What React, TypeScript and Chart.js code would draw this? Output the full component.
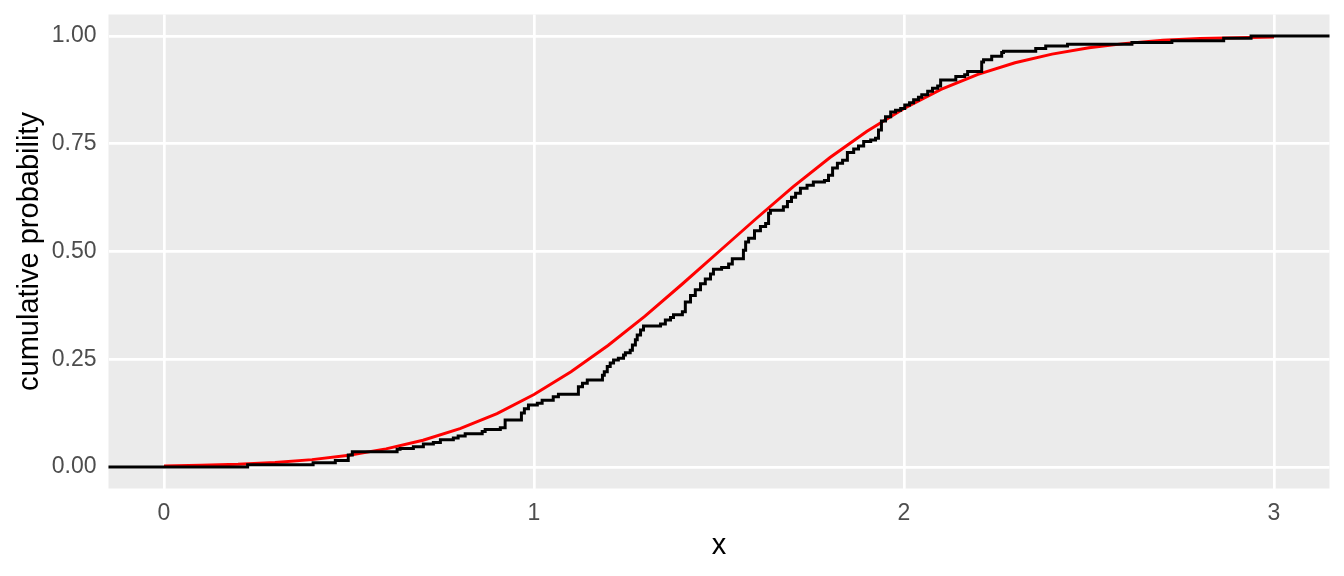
import React, { useEffect, useRef } from "react";
import { Chart, registerables } from "chart.js";

Chart.register(...registerables);

const ecdfX = [
  0.226, 0.403, 0.463, 0.498, 0.509, 0.63, 0.638, 0.674, 0.701, 0.728,
  0.747, 0.782, 0.795, 0.814, 0.86, 0.868, 0.909, 0.922, 0.966, 0.974,
  0.985, 1.009, 1.022, 1.052, 1.066, 1.12, 1.131, 1.144, 1.185, 1.19,
  1.198, 1.206, 1.215, 1.228, 1.242, 1.247, 1.26, 1.266, 1.274, 1.279,
  1.288, 1.296, 1.342, 1.355, 1.369, 1.377, 1.401, 1.409, 1.423, 1.436,
  1.45, 1.463, 1.477, 1.485, 1.507, 1.526, 1.536, 1.566, 1.572, 1.58,
  1.596, 1.612, 1.626, 1.634, 1.639, 1.674, 1.685, 1.696, 1.707, 1.72,
  1.738, 1.755, 1.785, 1.796, 1.807, 1.82, 1.834, 1.847, 1.864, 1.877,
  1.891, 1.91, 1.923, 1.931, 1.939, 1.95, 1.964, 1.977, 1.991, 2.002,
  2.015, 2.026, 2.039, 2.048, 2.064, 2.077, 2.091, 2.099, 2.14, 2.164,
  2.172, 2.21, 2.215, 2.237, 2.264, 2.269, 2.356, 2.383, 2.442, 2.616,
  2.724, 2.864, 2.938,
];
const ecdfY = [
  0.005, 0.01, 0.015, 0.028, 0.035, 0.041, 0.043, 0.047, 0.053, 0.057,
  0.063, 0.067, 0.072, 0.077, 0.082, 0.087, 0.091, 0.109, 0.125, 0.135,
  0.144, 0.148, 0.155, 0.163, 0.169, 0.186, 0.194, 0.202, 0.213, 0.221,
  0.233, 0.241, 0.248, 0.252, 0.26, 0.265, 0.271, 0.283, 0.295, 0.306,
  0.318, 0.327, 0.332, 0.341, 0.347, 0.353, 0.36, 0.383, 0.398, 0.411,
  0.425, 0.436, 0.448, 0.459, 0.463, 0.471, 0.483, 0.503, 0.522, 0.531,
  0.548, 0.558, 0.565, 0.589, 0.596, 0.604, 0.616, 0.626, 0.635, 0.647,
  0.654, 0.661, 0.665, 0.677, 0.694, 0.705, 0.712, 0.73, 0.738, 0.745,
  0.755, 0.759, 0.763, 0.782, 0.803, 0.813, 0.824, 0.828, 0.832, 0.84,
  0.845, 0.852, 0.858, 0.864, 0.872, 0.879, 0.884, 0.898, 0.906, 0.91,
  0.918, 0.94, 0.945, 0.953, 0.962, 0.965, 0.971, 0.977, 0.981, 0.985,
  0.989, 0.995, 1.0,
];
// padding ends of the ECDF (drawn to the panel edges)
const ecdfStart = { x: -1, y: 0 };
const ecdfEnd = { x: 4, y: 1 };

// Theoretical CDF (red)
const cdfX = [
  0, 0.1, 0.2, 0.3, 0.4, 0.5, 0.6, 0.7, 0.8, 0.9, 1.0, 1.1, 1.2, 1.3, 1.4, 1.5,
  1.6, 1.7, 1.8, 1.9, 2.0, 2.1, 2.2, 2.3, 2.4, 2.5, 2.6, 2.7, 2.8, 2.9, 3.0,
];
const cdfY = [
  0.002, 0.004, 0.006, 0.0105, 0.017, 0.027, 0.042, 0.062, 0.089, 0.124, 0.168,
  0.221, 0.282, 0.35, 0.424, 0.5, 0.576, 0.65, 0.718, 0.779, 0.832, 0.876,
  0.911, 0.938, 0.958, 0.973, 0.983, 0.99, 0.9945, 0.996, 0.998,
];

const xTicks = [0, 1, 2, 3];
const yTicks = [0, 0.25, 0.5, 0.75, 1];
const xTitle = "x";
const yTitle = "cumulative probability";

const FONT = "'Liberation Sans', Arial, Helvetica, sans-serif";

export default function App() {
  const ref = useRef<HTMLCanvasElement | null>(null);

  useEffect(() => {
    const canvas = ref.current;
    if (!canvas) return;

    const panelBg = {
      id: "panelBg",
      beforeDraw(chart: any) {
        const { ctx, chartArea } = chart;
        ctx.save();
        ctx.fillStyle = "#EBEBEB";
        ctx.fillRect(
          chartArea.left,
          chartArea.top,
          chartArea.right - chartArea.left,
          chartArea.bottom - chartArea.top
        );
        ctx.restore();
      },
    };

    const ecdfData = [
      ecdfStart,
      ...ecdfX.map((x, i) => ({ x, y: ecdfY[i] })),
      ecdfEnd,
    ];
    const cdfData = cdfX.map((x, i) => ({ x, y: cdfY[i] }));

    const chart = new Chart(canvas, {
      type: "line",
      data: {
        datasets: [
          {
            data: ecdfData,
            borderColor: "#000000",
            borderWidth: 3,
            pointRadius: 0,
            stepped: "before",
            fill: false,
          },
          {
            data: cdfData,
            borderColor: "#FF0000",
            borderWidth: 3,
            pointRadius: 0,
            tension: 0,
            fill: false,
          },
        ],
      },
      options: {
        animation: false,
        responsive: false,
        devicePixelRatio: 1,
        layout: { padding: { top: 14.5, right: 14.5, left: 0, bottom: 0 } },
        plugins: {
          legend: { display: false },
          tooltip: { enabled: false },
        },
        scales: {
          x: {
            type: "linear",
            min: -0.15,
            max: 3.15,
            afterBuildTicks(scale: any) {
              scale.ticks = xTicks.map((v) => ({ value: v }));
            },
            afterFit(scale: any) {
              scale.height = 87.5;
              scale.paddingLeft = 0;
              scale.paddingRight = 0;
            },
            border: { display: false },
            grid: { color: "#FFFFFF", lineWidth: 2.7, drawTicks: false },
            ticks: {
              color: "#4D4D4D",
              font: { family: FONT, size: 23, lineHeight: 1.2 },
              padding: 11,
              maxRotation: 0,
              callback: (v: any) => String(v),
            },
            title: {
              display: true,
              text: xTitle,
              color: "#000000",
              font: { family: FONT, size: 29, lineHeight: 1.2 },
              padding: { top: 0, bottom: 13 },
            },
          },
          y: {
            type: "linear",
            min: -0.05,
            max: 1.05,
            afterBuildTicks(scale: any) {
              scale.ticks = yTicks.map((v) => ({ value: v }));
            },
            afterFit(scale: any) {
              scale.width = 108.5;
              scale.paddingTop = 0;
              scale.paddingBottom = 0;
            },
            border: { display: false },
            grid: { color: "#FFFFFF", lineWidth: 2.7, drawTicks: false },
            ticks: {
              color: "#4D4D4D",
              font: { family: FONT, size: 23, lineHeight: 1.2 },
              padding: 12,
              callback: (v: any) => Number(v).toFixed(2),
            },
            title: {
              display: true,
              text: yTitle,
              color: "#000000",
              font: { family: FONT, size: 29, lineHeight: 1.2 },
              padding: { top: 13, bottom: 0 },
            },
          },
        },
      },
      plugins: [panelBg],
    });

    return () => chart.destroy();
  }, []);

  return (
    <div
      style={{
        position: "fixed",
        left: 0,
        top: 0,
        width: 1344,
        height: 576,
        background: "#FFFFFF",
      }}
    >
      <canvas ref={ref} width={1344} height={576} />
    </div>
  );
}
